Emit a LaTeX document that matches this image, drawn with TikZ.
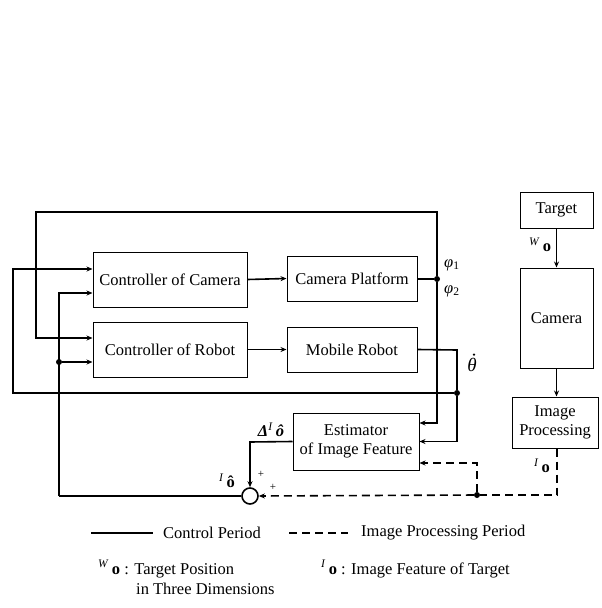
\documentclass[tikz,border=0pt]{standalone}
\usepackage{fontspec}
\setmainfont{Liberation Serif}
\usetikzlibrary{arrows.meta,calc}
\begin{document}
\begin{tikzpicture}[x=1pt,y=-1pt,
  font=\fontsize{16.5}{19}\selectfont,
  blk/.style={draw,line width=1pt,rectangle,inner sep=0pt,align=center},
  conn/.style={line width=1.6pt},
  arr/.style={conn,-{Stealth[length=6pt,width=5pt]}},
  dconn/.style={line width=1.6pt,dash pattern=on 8pt off 5pt},
  darr/.style={dconn,-{Stealth[length=6pt,width=5pt]}},
  dot/.style={circle,fill,inner sep=0pt,minimum size=6pt},
  lbl/.style={inner sep=0pt}]
\useasboundingbox (0,0) rectangle (602,608);

% blocks
\node[blk,minimum width=154pt,minimum height=55pt] (cc) at (170,279.5) {Controller of Camera};
\node[blk,minimum width=154pt,minimum height=55pt] (cr) at (170,349.5) {Controller of Robot};
\node[blk,minimum width=130pt,minimum height=45pt] (cp) at (352,278.5) {Camera Platform};
\node[blk,minimum width=130pt,minimum height=45pt] (mr) at (352,349.5) {Mobile Robot};
\node[blk,minimum width=126pt,minimum height=57pt] (est) at (356,441.5) {Estimator\\of Image Feature};
\node[blk,minimum width=73pt,minimum height=36pt] (tg) at (556.5,210) {Target};
\node[blk,minimum width=73pt,minimum height=100pt] (cam) at (556.5,318) {Camera};
\node[blk,minimum width=86pt,minimum height=51pt] (ip) at (555,422.5) {Image\\Processing};
\node[draw,circle,line width=1.6pt,minimum size=16pt,inner sep=0pt] (sum) at (250,496) {};

% junctions
\node[dot] (j1) at (437,279) {};
\node[dot] (j2) at (457,393) {};
\node[dot] (j3) at (59,362) {};
\node[dot] (j4) at (477,495) {};
\coordinate (c1) at (437,212);
\coordinate (c2) at (36,212);
\coordinate (c3) at (13,393);
\coordinate (c4) at (59,496);
\coordinate (c5) at (457,350);
\coordinate (c6) at (250,442);
\coordinate (c7) at (557,495);

% forward paths
\draw[arr] (cc.east) -- (cp.west);
\draw[arr] (cr.east) -- (mr.west);
\draw[arr] (tg.south -| cam.north) -- (cam.north);
\draw[arr] (cam.south) -- (cam.south |- ip.north);

% camera platform output
\draw[conn] (cp.east |- j1) -- (j1);
\draw[arr] (j1) -- (c1) -- (c2) |- ($(cr.west)+(0,-11.5)$);
\draw[arr] (j1) |- ($(est.east)+(0,-18.5)$);

% mobile robot output
\draw[conn] (mr.east) -- (c5) -- (j2);
\draw[arr] (j2) |- (est.east);
\draw[arr] (j2) -- (c3) |- ($(cc.west)+(0,-10.5)$);

% estimator to summing junction
\draw[arr] (est.west) -- (c6) -- (sum.north);
\draw[conn] (sum.west) -- (c4);
\draw[arr] (c4) |- ($(cc.west)+(0,13.5)$);
\draw[arr] (j3) -- (j3 -| cr.west);

% dashed image path
\draw[dconn] (ip.south -| c7) -- (c7) -- (j4);
\draw[darr] (j4) -- (sum.east);
\draw[darr] (j4) |- ($(est.east)+(0,21.5)$);

% labels
\node[lbl,anchor=west] (phi1) at (444,265) {\textit{φ}\textsubscript{1}};
\node[lbl,anchor=west] (phi2) at (444,291) {\textit{φ}\textsubscript{2}};
\node[lbl,font=\fontsize{19}{21}\selectfont] (thd) at (472,365) {\textit{θ}};
\node[circle,fill,inner sep=0pt,minimum size=2.6pt] (thdot) at ($(thd.north)+(2,-3.5)$) {};
\node[lbl] (dlt) at (271,430) {\textbf{\textit{Δ}}\textsuperscript{\textit{I}}\,\textbf{\textit{ô}}};
\node[lbl] (ioh) at (227,481) {\textsuperscript{\textit{I}}\,\textbf{ô}};
\node[lbl,font=\fontsize{11}{12}\selectfont] (p1) at (261,474) {+};
\node[lbl,font=\fontsize{11}{12}\selectfont] (p2) at (273,487) {+};
\node[lbl] (wo) at (540,245) {\textsuperscript{\textit{W}}\,\textbf{o}};
\node[lbl] (io) at (542,466) {\textsuperscript{\textit{I}}\,\textbf{o}};

% legend
\coordinate (ls1) at (91,533);
\coordinate (ls2) at (153,533);
\coordinate (ld1) at (289,533);
\coordinate (ld2) at (348,533);
\draw[conn] (ls1) -- (ls2);
\draw[dconn] (ld1) -- (ld2);
\node[lbl,anchor=west] (lc) at (163,533) {Control Period};
\node[lbl,anchor=west] (li) at (361,533) {Image Processing Period};
\node[lbl,anchor=west] (lw) at (98,569) {\textsuperscript{\textit{W}}\,\textbf{o} : Target Position};
\node[lbl,anchor=west] (lw2) at (136,589) {in Three Dimensions};
\node[lbl,anchor=west] (lio) at (321,569) {\textsuperscript{\textit{I}}\,\textbf{o} : Image Feature of Target};
\end{tikzpicture}
\end{document}
